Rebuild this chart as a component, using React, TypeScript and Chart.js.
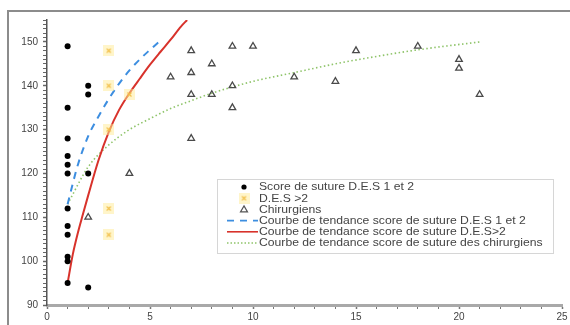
import React, { useEffect, useRef } from 'react';
import { Chart, registerables } from 'chart.js';

Chart.register(...registerables);

// ---- data ----
const desX = [1, 1, 1, 1, 1, 1, 1, 1, 1, 1, 1, 1, 2, 2, 2, 2];
const desY = [149, 135, 128, 124, 122, 120, 112, 108, 106, 101, 100, 95, 140, 138, 120, 94];

const desSupX = [3, 3, 3, 3, 3, 4];
const desSupY = [148, 140, 130, 112, 106, 138];

const chirX = [2, 4, 6, 7, 7, 7, 7, 8, 8, 9, 9, 9, 10, 12, 14, 15, 18, 20, 20, 21];
const chirY = [110, 120, 142, 148, 143, 138, 128, 145, 138, 149, 140, 135, 149, 142, 141, 148, 149, 146, 144, 138];

const trendDesX = [1, 1.5, 2, 2.5, 3, 3.5, 4, 4.5, 5, 5.5];
const trendDesY = [113, 122, 128.5, 133, 137, 140.5, 143.5, 146, 148.2, 150.3];

const trendSupX = [1, 1.25, 1.5, 1.75, 2, 2.5, 3, 3.5, 4, 4.5, 5, 5.5, 6, 6.5, 6.8];
const trendSupY = [95, 101.5, 106.5, 110.8, 115, 123, 129.5, 134.5, 138.3, 141.6, 144.8, 147.7, 150.5, 153.5, 155];

const trendChirX = [1, 2, 3, 4, 5, 6, 7, 8, 10, 12, 14, 16, 18, 21];
const trendChirY = [113, 121.5, 126.5, 130, 132.5, 134.8, 136.6, 138.3, 141, 143, 145, 146.7, 148.2, 150];

const xTickLabels = [0, 5, 10, 15, 20, 25];
const yTickLabels = [90, 100, 110, 120, 130, 140, 150];

const seriesLabels = [
  'Score de suture D.E.S 1 et 2',
  'D.E.S >2',
  'Chirurgiens',
  'Courbe de tendance score de suture D.E.S 1 et 2',
  'Courbe de tendance score de suture D.E.S>2',
  'Courbe de tendance score de suture des chirurgiens',
];

const pts = (xs: number[], ys: number[]) => xs.map((x, i) => ({ x, y: ys[i] }));

function makeYellowMarker(): HTMLCanvasElement {
  const c = document.createElement('canvas');
  c.width = 11;
  c.height = 11;
  const g = c.getContext('2d')!;
  g.fillStyle = 'rgba(255,236,150,0.5)';
  g.fillRect(0, 0, 11, 11);
  g.strokeStyle = '#f2c04a';
  g.lineWidth = 1.2;
  g.beginPath();
  g.moveTo(3.5, 3.5);
  g.lineTo(7.5, 7.5);
  g.moveTo(7.5, 3.5);
  g.lineTo(3.5, 7.5);
  g.stroke();
  return c;
}

const FONT = '"Liberation Sans", Arial, sans-serif';

export default function App() {
  const ref = useRef<HTMLCanvasElement | null>(null);

  useEffect(() => {
    if (!ref.current) return;
    const yellow = makeYellowMarker();

    const framePlugin = {
      id: 'frame',
      beforeDraw(chart: any) {
        const ctx = chart.ctx;
        ctx.save();
        ctx.fillStyle = '#ffffff';
        ctx.fillRect(0, 0, chart.width, chart.height);
        ctx.strokeStyle = '#8c8c8c';
        ctx.lineWidth = 2;
        ctx.beginPath();
        ctx.moveTo(8, chart.height);
        ctx.lineTo(8, 11);
        ctx.lineTo(chart.width, 11);
        ctx.stroke();
        ctx.restore();
      },
    };

    const legendPlugin = {
      id: 'customLegend',
      afterDraw(chart: any) {
        const ctx = chart.ctx;
        ctx.save();
        const bx = 217, by = 179, bw = 336, bh = 74;
        ctx.fillStyle = '#ffffff';
        ctx.fillRect(bx, by, bw, bh);
        ctx.strokeStyle = '#d6d6d6';
        ctx.lineWidth = 1;
        ctx.strokeRect(bx + 0.5, by + 0.5, bw, bh);
        const symX = 244;
        const textX = 259;
        const rowY = (i: number) => 187 + i * 11.2;
        ctx.fillStyle = '#000';
        ctx.beginPath();
        ctx.arc(symX, rowY(0), 2.6, 0, Math.PI * 2);
        ctx.fill();
        ctx.drawImage(yellow, symX - 5.5, rowY(1) - 5.5);
        ctx.strokeStyle = '#555';
        ctx.lineWidth = 1.2;
        ctx.beginPath();
        ctx.moveTo(symX, rowY(2) - 3.5);
        ctx.lineTo(symX + 3.5, rowY(2) + 2.5);
        ctx.lineTo(symX - 3.5, rowY(2) + 2.5);
        ctx.closePath();
        ctx.stroke();
        const lines = [
          { c: '#3d8ee0', w: 1.6, d: [7, 6] },
          { c: '#d8322b', w: 1.6, d: [] },
          { c: '#8fc46a', w: 1.4, d: [1.5, 2] },
        ];
        lines.forEach((l, k) => {
          const y = rowY(3 + k);
          ctx.strokeStyle = l.c;
          ctx.lineWidth = l.w;
          ctx.setLineDash(l.d);
          ctx.beginPath();
          ctx.moveTo(227, y);
          ctx.lineTo(258, y);
          ctx.stroke();
        });
        ctx.setLineDash([]);
        ctx.fillStyle = '#444';
        ctx.font = `10.5px ${FONT}`;
        ctx.textBaseline = 'middle';
        seriesLabels.forEach((t, i) => {
          ctx.save();
          ctx.translate(textX, rowY(i));
          ctx.scale(1.16, 1);
          ctx.fillText(t, 0, 0.5);
          ctx.restore();
        });
        ctx.restore();
      },
    };

    const chart = new Chart(ref.current, {
      type: 'scatter',
      data: {
        datasets: [
          {
            label: seriesLabels[0],
            data: pts(desX, desY),
            pointStyle: 'circle',
            pointRadius: 3,
            backgroundColor: '#000',
            borderColor: '#000',
            borderWidth: 0,
            order: 1,
          },
          {
            label: seriesLabels[1],
            data: pts(desSupX, desSupY),
            pointStyle: yellow as any,
            pointRadius: 5,
            order: 2,
          },
          {
            label: seriesLabels[2],
            data: pts(chirX, chirY),
            pointStyle: 'triangle',
            pointRadius: 3.8,
            backgroundColor: 'rgba(255,255,255,0)',
            borderColor: '#4a4a4a',
            borderWidth: 1.3,
            order: 1,
          },
          {
            label: seriesLabels[3],
            data: pts(trendDesX, trendDesY),
            showLine: true,
            pointRadius: 0,
            borderColor: '#3d8ee0',
            borderWidth: 2,
            borderDash: [7, 6],
            cubicInterpolationMode: 'monotone',
            order: 3,
          } as any,
          {
            label: seriesLabels[4],
            data: pts(trendSupX, trendSupY),
            showLine: true,
            pointRadius: 0,
            borderColor: '#d8322b',
            borderWidth: 2,
            cubicInterpolationMode: 'monotone',
            order: 3,
          } as any,
          {
            label: seriesLabels[5],
            data: pts(trendChirX, trendChirY),
            showLine: true,
            pointRadius: 0,
            borderColor: '#8fc46a',
            borderWidth: 1.6,
            borderDash: [1.5, 2.5],
            cubicInterpolationMode: 'monotone',
            order: 3,
          } as any,
        ],
      },
      options: {
        animation: false,
        responsive: false,
        maintainAspectRatio: false,
        layout: { padding: { top: 20, right: 8, left: 0, bottom: 0 } },
        plugins: {
          legend: { display: false },
          tooltip: { enabled: false },
        },
        scales: {
          x: {
            type: 'linear',
            min: 0,
            max: 25,
            afterFit: (axis: any) => {
              axis.height = 20;
            },
            ticks: {
              stepSize: 1,
              autoSkip: false,
              maxRotation: 0,
              padding: 2,
              color: '#444',
              font: { family: FONT, size: 10 },
              callback: (v: any) => (xTickLabels.includes(Number(v)) ? String(v) : ''),
            },
            grid: {
              drawOnChartArea: false,
              drawTicks: true,
              tickLength: 4,
              tickColor: '#777',
              tickWidth: (c: any) => (c.tick && xTickLabels.includes(c.tick.value) ? 1.5 : 1),
            },
            border: { color: '#a9a9a9', width: 3 },
          },
          y: {
            type: 'linear',
            min: 90,
            max: 155,
            afterFit: (axis: any) => {
              axis.width = 47;
            },
            ticks: {
              stepSize: 1,
              autoSkip: false,
              padding: 5,
              color: '#444',
              font: { family: FONT, size: 10 },
              callback: (v: any) => (yTickLabels.includes(Number(v)) ? String(v) : ''),
            },
            grid: {
              drawOnChartArea: false,
              drawTicks: true,
              tickLength: 4,
              tickColor: '#666',
              tickWidth: (c: any) => (c.tick && yTickLabels.includes(c.tick.value) ? 1.5 : 1),
            },
            border: { color: '#555', width: 1.5 },
          },
        },
      },
      plugins: [framePlugin, legendPlugin],
    } as any);

    return () => chart.destroy();
  }, []);

  return (
    <div style={{ position: 'fixed', left: 0, top: 0, width: 570, height: 325, background: '#fff' }}>
      <canvas ref={ref} width={570} height={325} style={{ display: 'block', width: 570, height: 325 }} />
    </div>
  );
}
